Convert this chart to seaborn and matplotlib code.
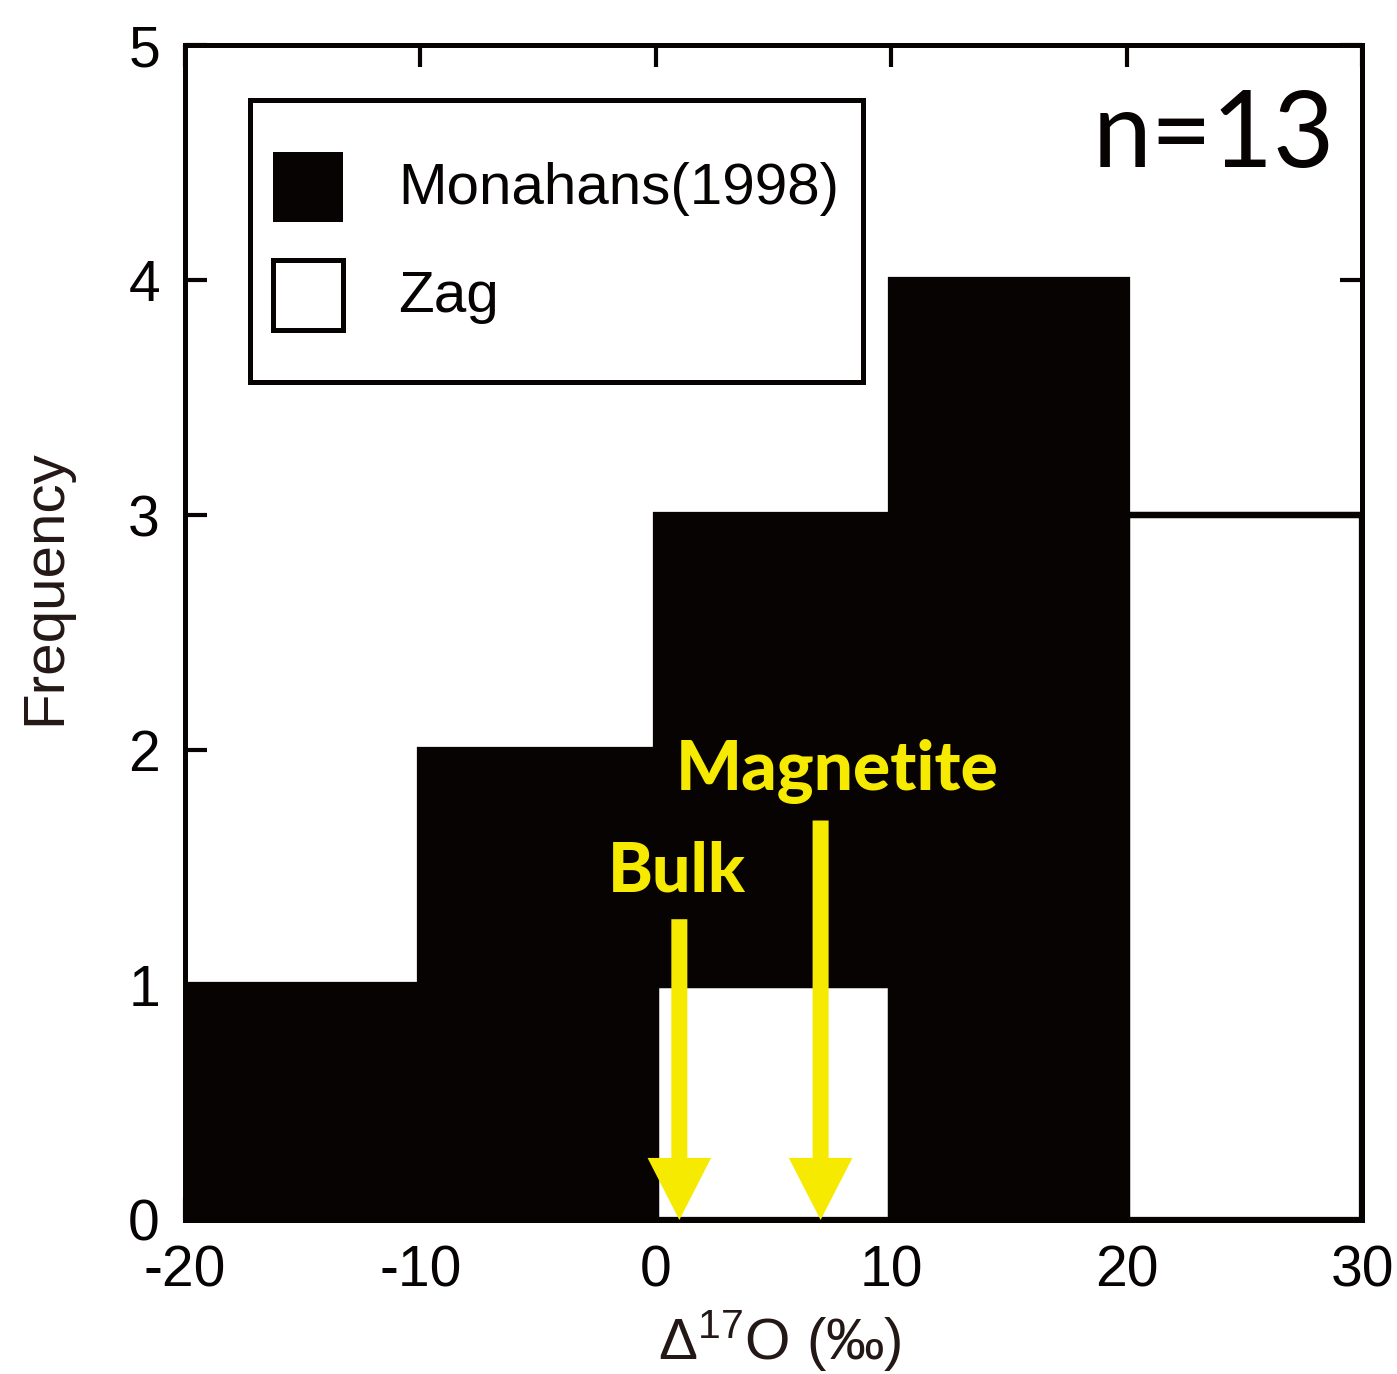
import matplotlib
matplotlib.use("Agg")
import matplotlib.pyplot as plt
from matplotlib.patches import Patch, Rectangle
from matplotlib.legend_handler import HandlerPatch
import numpy as np
import pandas as pd
import seaborn as sns

# Histogram bins of Δ17O (‰) and counts per meteorite
bin_edges = [-20, -10, 0, 10, 20, 30]
monahans_centers = [-15, -5, 5, 15]
monahans_counts = [1, 2, 2, 4]
zag_centers = [5, 25]
zag_counts = [1, 3]
series_names = ["Monahans(1998)", "Zag"]
n_total = 13

# Marked compositions (arrows)
marker_names = ["Bulk", "Magnetite"]
marker_values = [1.0, 7.0]
marker_tops = [1.28, 1.70]

df = pd.DataFrame({
    "d17O": monahans_centers + zag_centers,
    "count": monahans_counts + zag_counts,
    "sample": [series_names[0]] * len(monahans_centers) + [series_names[1]] * len(zag_centers),
})

sns.set_theme(style="white")
plt.rcParams["font.family"] = ["Liberation Sans", "DejaVu Sans"]
plt.rcParams["axes.unicode_minus"] = False
plt.rcParams["mathtext.fontset"] = "custom"
plt.rcParams["mathtext.rm"] = "Liberation Sans"
plt.rcParams["mathtext.it"] = "Liberation Sans:italic"
plt.rcParams["mathtext.bf"] = "Liberation Sans:bold"

ink = "#070303"
yellow = "#f5ea00"

fig = plt.figure(figsize=(13.97, 13.74), dpi=100)
ax = fig.add_axes([0.1324, 0.1121, 0.8426, 0.8551])

sns.histplot(
    data=df, x="d17O", weights="count", hue="sample", hue_order=series_names,
    multiple="stack", bins=bin_edges,
    palette={series_names[0]: ink, series_names[1]: "white"},
    edgecolor=ink, linewidth=4.5, alpha=1, legend=False, ax=ax,
)

ax.set_xlim(-20, 30)
ax.set_ylim(0, 5)
ax.set_xticks([-20, -10, 0, 10, 20, 30])
ax.set_yticks([0, 1, 2, 3, 4, 5])
ax.tick_params(direction="in", length=16, width=3, labelsize=41, colors=ink,
               top=True, right=True, bottom=True, left=True, pad=18)
for s in ax.spines.values():
    s.set_visible(True)
    s.set_linewidth(3.6)
    s.set_color(ink)

ax.set_xlabel("Δ$^{\\mathregular{17}}$O (‰)", fontsize=42, color="#231815")
ax.set_ylabel("Frequency", fontsize=42, color="#231815")
ax.xaxis.set_label_coords(0.505, -0.075)
ax.yaxis.set_label_coords(-0.096, 0.539)

# Arrows marking the bulk and magnetite values
for name, val, top in zip(marker_names, marker_values, marker_tops):
    ax.arrow(val, top, 0, -top, width=0.68, head_width=2.7, head_length=0.264,
             length_includes_head=True, color=yellow, lw=0, zorder=5)

label_font = ["Lato", "DejaVu Sans"]
ax.text(-2.04, 1.40, marker_names[0], fontsize=49, fontweight=900,
        family=label_font, color=yellow, ha="left", va="baseline", zorder=6)
ax.text(0.85, 1.83, marker_names[1], fontsize=50, fontweight=900,
        family=label_font, color=yellow, ha="left", va="baseline", zorder=6)

ax.text(0.977, 0.896, f"n={n_total}", transform=ax.transAxes, fontsize=76,
        family=label_font, color=ink, ha="right", va="baseline")


def square_patch(legend, orig_handle, xdescent, ydescent, width, height, fontsize):
    side = 50.4
    return Rectangle((-xdescent + (width - side) / 2, -ydescent + (height - side) / 2),
                     side, side)


handles = [Patch(facecolor=ink, edgecolor=ink, linewidth=0),
           Patch(facecolor="white", edgecolor=ink, linewidth=3.6)]
leg = ax.legend(handles, series_names, loc="upper left", bbox_to_anchor=(0.055, 0.953),
                fontsize=42, frameon=True, fancybox=False, framealpha=1,
                edgecolor=ink, borderpad=0.4, handlelength=1.2, handleheight=2.95,
                handletextpad=0.95, labelspacing=-0.3, borderaxespad=0,
                handler_map={Patch: HandlerPatch(patch_func=square_patch)})
leg.get_frame().set_linewidth(3.6)
for t in leg.get_texts():
    t.set_color(ink)

fig.savefig("out.png", dpi=100, facecolor="white")
